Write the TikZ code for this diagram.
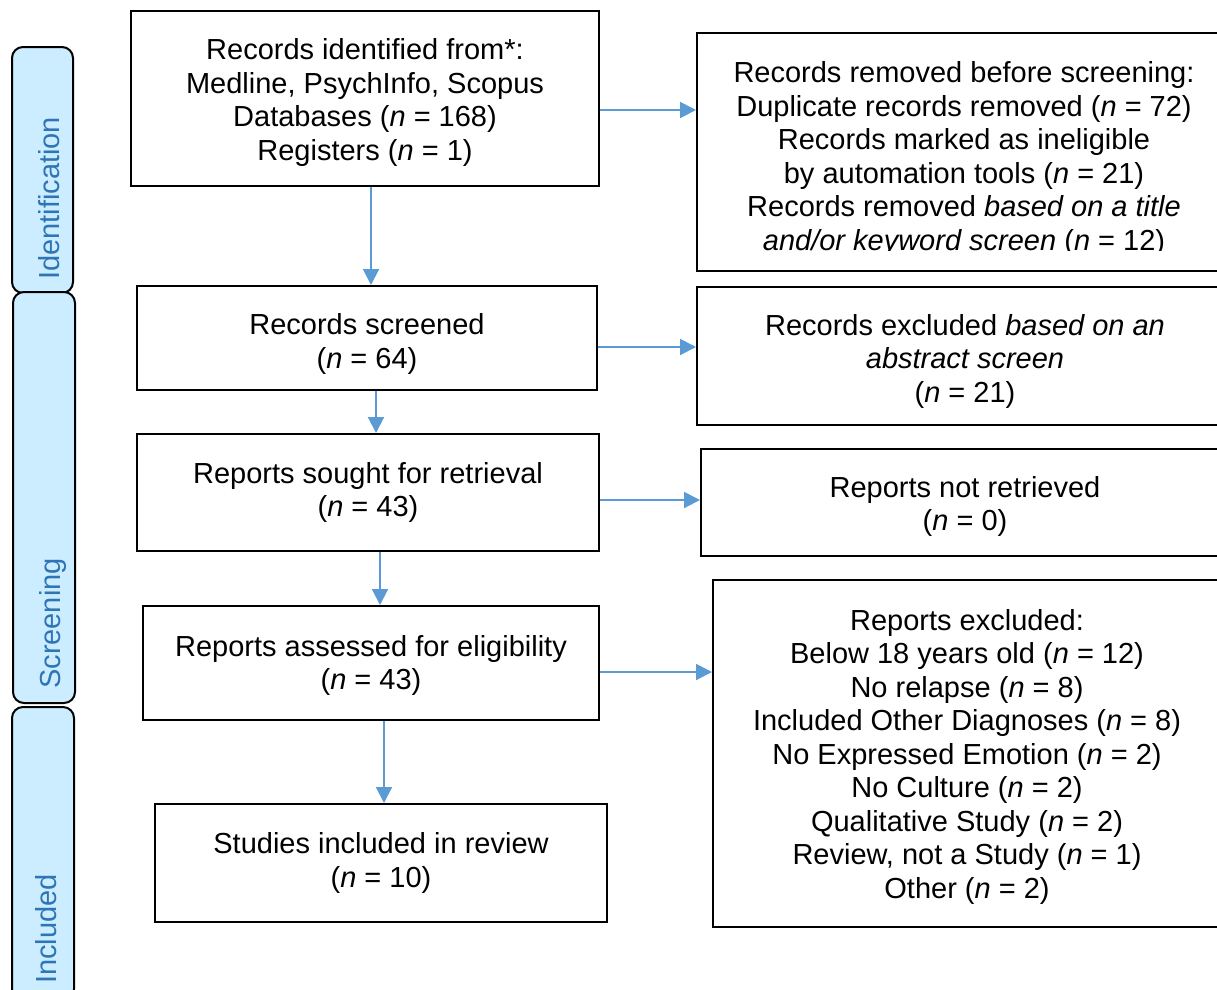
\documentclass[tikz,border=0pt]{standalone}
\usepackage{fontspec}
\setmainfont{Liberation Sans}
\usetikzlibrary{arrows.meta}
\definecolor{arrblue}{HTML}{5B9BD5}
\definecolor{barfill}{HTML}{CCECFF}
\definecolor{bartext}{HTML}{2E75B6}
\newcommand{\nn}[1]{(\textit{n} = #1)}
\tikzset{
  boxnode/.style={draw=black, line width=2pt, inner sep=0pt},
  txtnode/.style={inner sep=0pt, align=center, font=\fontsize{29}{33.5}\selectfont},
  barnode/.style={draw=black, line width=2pt, fill=barfill, rounded corners=11pt, inner sep=0pt},
  barlabel/.style={inner sep=0pt, rotate=90, text=bartext, font=\fontsize{29}{33.5}\selectfont},
  arr/.style={draw=arrblue, line width=2pt, -{Triangle[length=16pt,width=16pt]}},
}
\begin{document}
\begin{tikzpicture}[x=1pt,y=-1pt]
\useasboundingbox (0,0) rectangle (1217,989);
\clip (0,0) rectangle (1217,989);
% side bars
\node[barnode, minimum width=61pt, minimum height=246pt] (idbar) at (42.5,170) {};
\node[barnode, minimum width=62pt, minimum height=411pt] (scbar) at (44,497.5) {};
\node[barnode, minimum width=62pt, minimum height=293pt] (inbar) at (43,853.5) {};
\node[barlabel, anchor=base west] (idlab) at (59.5,280) {Identification};
\node[barlabel, anchor=base west] (sclab) at (60,689) {Screening};
\node[barlabel, anchor=base west] (inlab) at (56,984) {Included};
% main boxes
\node[boxnode, minimum width=468pt, minimum height=175pt] (b1) at (365,98.5) {};
\node[txtnode] (b1t) at ([yshift=-4pt]b1.center)
  {Records identified from*:\\Medline, PsychInfo, Scopus\\Databases \nn{168}\\Registers \nn{1}};
\node[boxnode, minimum width=460pt, minimum height=104pt] (b2) at (367,338) {};
\node[txtnode] (b2t) at ([yshift=-6pt]b2.center) {Records screened\\\nn{64}};
\node[boxnode, minimum width=462pt, minimum height=117pt] (b3) at (368,492.5) {};
\node[txtnode] (b3t) at (b3.center) {Reports sought for retrieval\\\nn{43}};
\node[boxnode, minimum width=456pt, minimum height=114pt] (b4) at (371,663) {};
\node[txtnode] (b4t) at ([yshift=-2.5pt]b4.center) {Reports assessed for eligibility\\\nn{43}};
\node[boxnode, minimum width=452pt, minimum height=118pt] (b5) at (381,863) {};
\node[txtnode] (b5t) at (b5.center) {Studies included in review\\\nn{10}};
% right boxes
\node[boxnode, minimum width=536pt, minimum height=238pt] (r1) at (965,152) {};
\begin{scope}
\clip (697,33) rectangle (1217,250);
\node[txtnode] (r1t) at (964,159)
  {Records removed before screening:\\Duplicate records removed \nn{72}\\Records marked as ineligible\\by automation tools \nn{21}\\Records removed \textit{based on a title}\\\textit{and/or keyword screen} \nn{12}};
\end{scope}
\node[boxnode, minimum width=536pt, minimum height=138pt] (r2) at (965,356) {};
\node[txtnode] (r2t) at ([yshift=-5pt]r2.center)
  {Records excluded \textit{based on an}\\\textit{abstract screen}\\\nn{21}};
\node[boxnode, minimum width=528pt, minimum height=107pt] (r3) at (965,502.5) {};
\node[txtnode] (r3t) at ([yshift=-4pt]r3.center) {Reports not retrieved\\\nn{0}};
\node[boxnode, minimum width=508pt, minimum height=347pt] (r4) at (967,753.5) {};
\node[txtnode] (r4t) at ([yshift=-3pt]r4.center)
  {Reports excluded:\\Below 18 years old \nn{12}\\No relapse \nn{8}\\Included Other Diagnoses \nn{8}\\No Expressed Emotion \nn{2}\\No Culture \nn{2}\\Qualitative Study \nn{2}\\Review, not a Study \nn{1}\\Other \nn{2}};
% arrows
\draw[arr] ([yshift=-11.5pt]b1.east) -- ([yshift=-11.5pt]b1.east -| r1.west);
\draw[arr] ([yshift=-9pt]b2.east) -- ([yshift=-9pt]b2.east -| r2.west);
\draw[arr] ([yshift=-7.5pt]b3.east) -- ([yshift=-7.5pt]b3.east -| r3.west);
\draw[arr] ([yshift=-9pt]b4.east) -- ([yshift=-9pt]b4.east -| r4.west);
\draw[arr] ([xshift=6pt]b1.south) -- ([xshift=6pt]b1.south |- b2.north);
\draw[arr] ([xshift=9pt]b2.south) -- ([xshift=9pt]b2.south |- b3.north);
\draw[arr] ([xshift=12pt]b3.south) -- ([xshift=12pt]b3.south |- b4.north);
\draw[arr] ([xshift=13pt]b4.south) -- ([xshift=13pt]b4.south |- b5.north);
\end{tikzpicture}
\end{document}
